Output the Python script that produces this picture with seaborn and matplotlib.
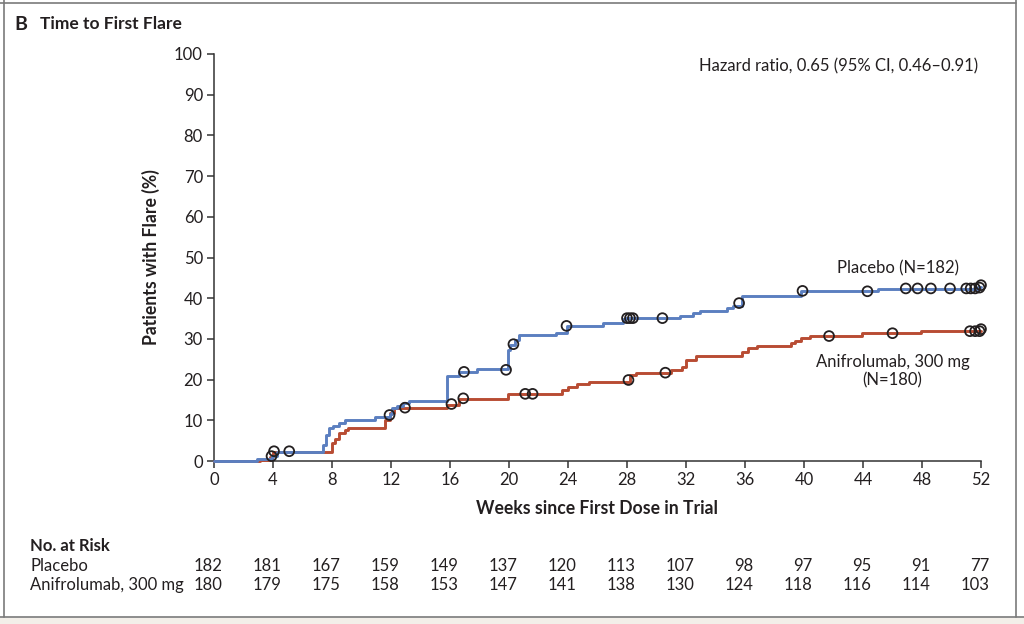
import numpy as np
import pandas as pd
import seaborn as sns
import matplotlib.pyplot as plt
from matplotlib.lines import Line2D
from matplotlib.patches import Rectangle
from matplotlib.transforms import blended_transform_factory

# step points (week, cumulative % with flare)
placebo_weeks = [0, 2.9, 3.9, 4.3, 7.4, 7.6, 7.8, 8.1, 8.5, 8.9, 10.9, 11.9, 12.1, 12.4, 12.8, 13.2,
                 15.8, 16.6, 17.8, 19.9, 20.1, 20.4, 20.7, 23.2, 23.9, 26.4, 27.7, 27.9, 31.6, 32.5,
                 32.95, 34.8, 35.2, 35.8, 39.8, 45.0, 51.8, 52]
placebo_pct = [0, 0.6, 1.2, 2.3, 4.0, 6.4, 8.0, 8.6, 9.3, 10.1, 10.9, 11.5, 12.9, 13.5, 14.2, 14.8,
               20.9, 21.9, 22.5, 27.3, 28.5, 29.7, 31.0, 31.5, 33.2, 33.8, 34.8, 35.1, 35.6, 36.3,
               36.9, 37.5, 38.1, 40.5, 41.7, 42.3, 42.8, 42.8]

anif_weeks = [0, 3.1, 3.8, 4.0, 8.0, 8.2, 8.5, 8.9, 9.1, 11.6, 11.9, 12.2, 15.8, 16.6, 19.9, 23.6,
              24.0, 24.6, 25.4, 28.2, 28.6, 31.0, 31.7, 32.0, 32.7, 35.8, 36.2, 36.8, 39.1, 39.4,
              39.8, 40.4, 43.9, 47.9, 52]
anif_pct = [0, 0.3, 1.1, 2.3, 4.4, 5.5, 6.9, 7.6, 8.0, 10.1, 11.7, 13.1, 13.8, 15.2, 16.5, 17.4,
            18.3, 18.9, 19.5, 21.1, 21.7, 22.4, 23.2, 24.8, 25.8, 26.9, 27.7, 28.3, 28.9, 29.6,
            30.1, 30.7, 31.4, 31.9, 31.9]

# censored observations
placebo_cens_weeks = [3.9, 11.9, 16.95, 19.8, 20.3, 23.9, 28.0, 28.2, 28.4, 30.4, 35.6, 39.9, 44.3,
                      46.9, 47.7, 48.6, 49.9, 51.0, 51.3, 51.6, 51.9, 52.0]
placebo_cens_pct = [1.2, 11.3, 21.9, 22.4, 28.7, 33.2, 35.1, 35.1, 35.1, 35.1, 38.8, 41.8, 41.7,
                    42.4, 42.4, 42.4, 42.4, 42.4, 42.4, 42.4, 42.6, 43.2]
anif_cens_weeks = [4.07, 5.1, 12.95, 16.1, 16.9, 21.1, 21.6, 28.1, 30.6, 41.7, 46.0, 51.25, 51.6,
                   51.9, 52.0]
anif_cens_pct = [2.4, 2.4, 13.1, 14.0, 15.4, 16.5, 16.5, 19.9, 21.7, 30.7, 31.4, 31.9, 31.9, 31.9,
                 32.4]

risk_weeks = list(range(0, 53, 4))
risk_placebo = [182, 181, 167, 159, 149, 137, 120, 113, 107, 98, 97, 95, 91, 77]
risk_anif = [180, 179, 175, 158, 153, 147, 141, 138, 130, 124, 118, 116, 114, 103]

blue = "#5b7fc0"
red = "#b84c33"
ink = "#231f20"
fs = 12

sns.set_style("ticks")
plt.rcParams['font.family'] = ['Lato', 'DejaVu Sans']

fig = plt.figure(figsize=(10.24, 6.24), dpi=100)
ax = fig.add_axes([214 / 1024, 1 - 461 / 624, 767 / 1024, 407 / 624])

df_p = pd.DataFrame({"week": placebo_weeks, "pct": placebo_pct})
df_a = pd.DataFrame({"week": anif_weeks, "pct": anif_pct})
sns.lineplot(data=df_a, x="week", y="pct", ax=ax, color=red, lw=2.1, drawstyle="steps-post",
             estimator=None, sort=False, clip_on=False, zorder=3)
sns.lineplot(data=df_p, x="week", y="pct", ax=ax, color=blue, lw=2.1, drawstyle="steps-post",
             estimator=None, sort=False, clip_on=False, zorder=4)

cens = pd.DataFrame({"week": placebo_cens_weeks + anif_cens_weeks,
                     "pct": placebo_cens_pct + anif_cens_pct})
sns.scatterplot(data=cens, x="week", y="pct", ax=ax, s=50, facecolor="none", edgecolor=ink,
                linewidth=1.3, zorder=5, clip_on=False)

ax.set_xlim(0, 52)
ax.set_ylim(0, 100)
ax.set_xticks(risk_weeks)
ax.set_yticks(range(0, 101, 10))
ax.tick_params(axis="both", direction="out", length=5, width=1.1, color="#333333",
               labelsize=fs, labelcolor=ink, pad=3)
for s in ["top", "right"]:
    ax.spines[s].set_visible(False)
for s in ["left", "bottom"]:
    ax.spines[s].set_color("#333333")
    ax.spines[s].set_linewidth(1.1)

ax.set_xlabel("Weeks since First Dose in Trial", fontsize=12.7, fontweight="bold", color=ink)
ax.set_ylabel("Patients with Flare (%)", fontsize=12.7, fontweight="bold", color=ink)
ax.xaxis.set_label_coords(0.5, -(500 - 461) / 407)
ax.yaxis.set_label_coords((160 - 214) / 767, 0.5)

ax.text(51.8, 97, "Hazard ratio, 0.65 (95% CI, 0.46\u20130.91)", ha="right", va="center",
        fontsize=fs, color=ink)
ax.text(46.4, 47.4, "Placebo (N=182)", ha="center", va="center", fontsize=fs, color=ink)
ax.text(46.0, 22.0, "Anifrolumab, 300 mg\n(N=180)", ha="center", va="center", fontsize=fs,
        color=ink, linespacing=1.2)

# title
fig.text(14 / 1024, 1 - 24 / 624, "B", fontsize=14, fontweight="bold", color=ink, va="center")
fig.text(40 / 1024, 1 - 24 / 624, "Time to First Flare", fontsize=12.5, fontweight="bold",
         color=ink, va="center")

# number at risk table
tr = blended_transform_factory(ax.transData, fig.transFigure)
fig.text(30 / 1024, 1 - 546 / 624, "No. at Risk", fontsize=fs, fontweight="bold", color=ink,
         va="center")
fig.text(30 / 1024, 1 - 566 / 624, "Placebo", fontsize=fs, color=ink, va="center")
fig.text(30 / 1024, 1 - 585 / 624, "Anifrolumab, 300 mg", fontsize=fs, color=ink, va="center")
for w, p, a in zip(risk_weeks, risk_placebo, risk_anif):
    ax.text(w + 0.55, 1 - 566 / 624, str(p), transform=tr, ha="right", va="center",
            fontsize=fs, color=ink, clip_on=False)
    ax.text(w + 0.55, 1 - 585 / 624, str(a), transform=tr, ha="right", va="center",
            fontsize=fs, color=ink, clip_on=False)

# panel frame
frame = "#7a7a7a"
fig.add_artist(Line2D([0, 1016 / 1024], [1 - 3 / 624, 1 - 3 / 624], color=frame, lw=1.2,
                      transform=fig.transFigure))
fig.add_artist(Line2D([4 / 1024, 4 / 1024], [1 - 617 / 624, 1], color=frame, lw=1.2,
                      transform=fig.transFigure))
fig.add_artist(Line2D([1016 / 1024, 1016 / 1024], [1 - 617 / 624, 1], color=frame, lw=1.2,
                      transform=fig.transFigure))
fig.add_artist(Line2D([0, 1], [1 - 617 / 624, 1 - 617 / 624], color=frame, lw=1.2,
                      transform=fig.transFigure))
fig.add_artist(Rectangle((0, 0), 1, 1 - 618 / 624, color="#f3efe9", transform=fig.transFigure,
                         zorder=0))

fig.savefig("out.png", dpi=100)
